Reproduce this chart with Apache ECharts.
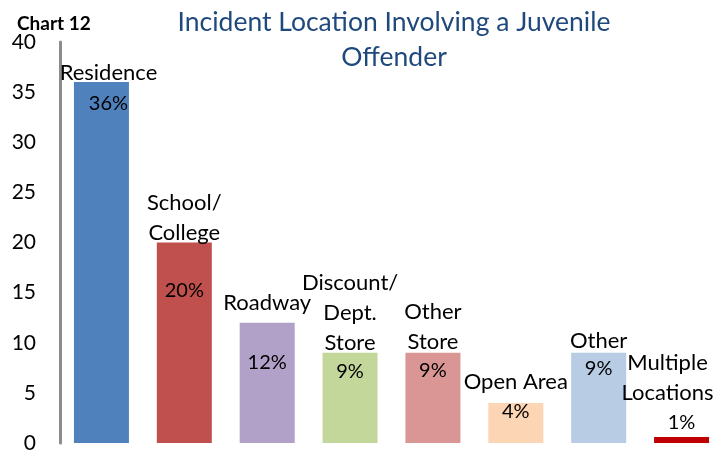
<!DOCTYPE html>
<html>
<head>
<meta charset="utf-8">
<script src="https://cdn.jsdelivr.net/npm/echarts@6/dist/echarts.min.js"></script>
<style>
  html, body { margin: 0; padding: 0; background: #fff; }
  #chartMount { width: 726px; height: 454px; }
</style>
</head>
<body>
<div id="chartMount"></div>
<script>
  // 数据
  var locations = ['Residence', 'School/\nCollege', 'Roadway', 'Discount/\nDept.\nStore', 'Other\nStore', 'Open Area', 'Other', 'Multiple\nLocations'];
  var counts = [36, 20, 12, 9, 9, 4, 9, 0.6];
  var shares = ['36%', '20%', '12%', '9%', '9%', '4%', '9%', '1%'];
  var yTicks = [0, 5, 10, 15, 20, 25, 30, 35, 40];
  var barColors = ['#4F81BD', '#C0504D', '#B1A0C7', '#C4D79B', '#DA9694', '#FCD5B4', '#B8CCE4', '#C00000'];

  // label placement tweaks (not data)
  var pctGap = [11, 38, 30, 9, 8, -1, 6, 4];
  var pctDx = [7, 0, 0, 0, 0, 0, 0, 0];
  var nameGap = [-6, -5, 5, -5, -4, 6, -3, 29];
  var nameDx = [7, 0, 0, 0, 0, 0, 0, -14];

  var FONT = 'Lato, "Open Sans", sans-serif';
  var app = echarts.init(document.getElementById('chartMount'));

  var barData = counts.map(function (v, i) {
    return {
      value: v,
      itemStyle: { color: barColors[i] },
      label: {
        position: i === counts.length - 1 ? 'top' : 'insideTop',
        distance: pctGap[i],
        offset: [pctDx[i], 0]
      }
    };
  });
  var nameData = counts.map(function (v, i) {
    return {
      value: v,
      label: { distance: nameGap[i], offset: [nameDx[i], 0] }
    };
  });

  var option = {
    animation: false,
    title: [{
      text: 'Chart 12',
      left: 12, top: 9,
      textStyle: { fontFamily: FONT, fontSize: 19, fontWeight: 'bold', color: '#000' }
    }, {
      text: 'Incident Location Involving a Juvenile\nOffender',
      left: 389, top: 0,
      textAlign: 'center',
      textStyle: { fontFamily: FONT, fontSize: 26.5, fontWeight: 'normal', color: '#1F497D', lineHeight: 35 }
    }],
    grid: { left: 60, right: 3, top: 42, bottom: 11 },
    xAxis: {
      type: 'category',
      data: locations,
      axisLine: { show: false },
      axisTick: { show: false },
      axisLabel: { show: false }
    },
    yAxis: {
      type: 'value',
      min: yTicks[0],
      max: yTicks[yTicks.length - 1],
      interval: 5,
      splitLine: { show: false },
      axisTick: { show: false },
      axisLine: { show: true, lineStyle: { color: '#8C8C8C', width: 3 } },
      axisLabel: { fontFamily: FONT, fontSize: 21, color: '#000', margin: 24 }
    },
    series: [{
      name: 'share',
      type: 'bar',
      barWidth: 55,
      data: barData,
      label: {
        show: true,
        fontFamily: FONT, fontSize: 20, color: '#000',
        formatter: function (p) { return shares[p.dataIndex]; }
      }
    }, {
      name: 'location',
      type: 'bar',
      barWidth: 55,
      barGap: '-100%',
      data: nameData,
      itemStyle: { color: 'rgba(0,0,0,0)' },
      label: {
        show: true,
        position: 'top',
        fontFamily: FONT, fontSize: 22, color: '#000', lineHeight: 30,
        formatter: function (p) { return locations[p.dataIndex]; }
      }
    }]
  };

  app.setOption(option);
</script>
</body>
</html>
